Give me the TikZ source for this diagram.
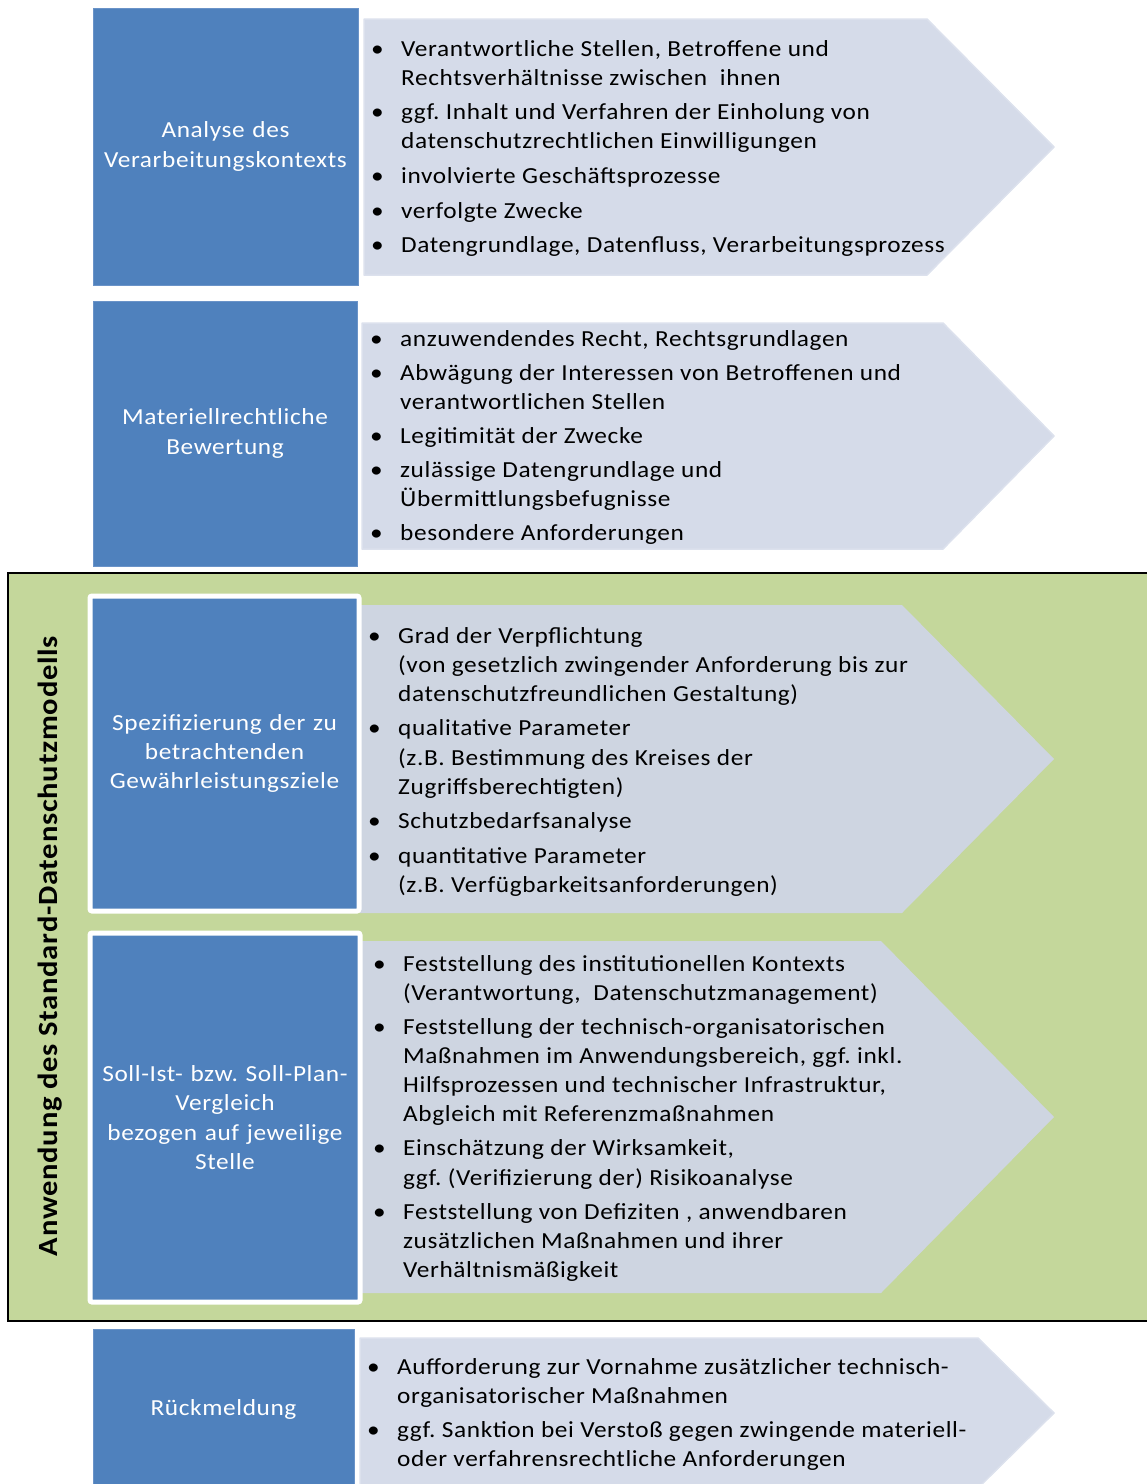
\documentclass[tikz,border=0pt]{standalone}
\usepackage{fontspec}
\setmainfont{Carlito}[FakeStretch=1.10, LetterSpace=2.7]
\definecolor{boxblue}{HTML}{4F81BD}
\definecolor{boxedge}{HTML}{6A93C8}
\definecolor{chevfill}{HTML}{D5DBE9}
\definecolor{chevedge}{HTML}{DCE1ED}
\definecolor{chevgreen}{HTML}{CED5E1}
\definecolor{panelgreen}{HTML}{C4D79B}
\newcommand{\itm}{\makebox[30pt][l]{\textbullet}}
\frenchspacing
\begin{document}
\begin{tikzpicture}[x=1pt,y=-1pt,
  bluebox/.style={fill=boxblue, draw=boxedge, line width=0.8pt, text=white,
    align=center, font=\fontsize{23}{29.2}\selectfont, inner sep=0pt},
  framedbox/.style={fill=boxblue, draw=white, line width=5pt, rounded corners=2pt,
    text=white, align=center, font=\fontsize{23}{29.2}\selectfont, inner sep=0pt},
  chevron/.style={fill=chevfill, draw=chevedge, line width=1.5pt, line join=round},
  chevrong/.style={fill=chevgreen, draw=none},
  listtext/.style={anchor=base west, inner sep=0pt, text=black,
    font=\fontsize{23}{29.15}\selectfont},
  vlabel/.style={rotate=90, text=black, font=\bfseries\fontsize{27.8}{32}\selectfont}
]
\useasboundingbox (0,0) rectangle (1147,1484);
\clip (0,0) rectangle (1147,1484);

% ---------- green panel ----------
\draw[fill=panelgreen, line width=2.5pt] (8,573) rectangle (1170,1321);
\node[vlabel] (vt) at (50,946) {Anwendung des Standard-Datenschutzmodells};

% ---------- chevrons ----------
\draw[chevron] (364,19) -- (927,19) -- (1054,147) -- (927,275) -- (364,275) -- cycle;
\draw[chevron] (362,323) -- (943,323) -- (1054,436) -- (943,549) -- (362,549) -- cycle;
\fill[chevrong] (360,605) -- (902,605) -- (1054,759) -- (902,913) -- (360,913) -- cycle;
\fill[chevrong] (362,941) -- (881,941) -- (1054,1117) -- (881,1293) -- (362,1293) -- cycle;
\draw[chevron] (360,1338) -- (978,1338) -- (1054,1413) -- (978,1488) -- (360,1488) -- cycle;

% ---------- blue boxes ----------
\node[bluebox, minimum width=265pt, minimum height=277pt, text width=262pt]
  (b1) at (225.5,146.5) {Analyse des\\Verarbeitungskontexts};
\node[bluebox, minimum width=264pt, minimum height=265pt, text width=262pt]
  (b2) at (225,433.5) {Materiellrechtliche\\Bewertung};
\node[framedbox, minimum width=269pt, minimum height=315pt, text width=262pt]
  (b3) at (224.5,753.5) {Spezifizierung der zu\\betrachtenden\\Gewährleistungsziele};
\node[framedbox, minimum width=270pt, minimum height=369pt, text width=262pt]
  (b4) at (225,1117.5) {Soll-Ist- bzw. Soll-Plan-\\Vergleich\\bezogen auf jeweilige\\Stelle};
\node[bluebox, minimum width=261pt, minimum height=160pt, text width=258pt]
  (b5) at (223.5,1409) {Rückmeldung};

% ---------- lists ----------
\node[listtext] (l1) at (371,56) {\begin{tabular}[t]{@{}l@{}l@{}}
\itm & Verantwortliche Stellen, Betroffene und\\
     & Rechtsverhältnisse zwischen~ ihnen\\[5.5pt]
\itm & ggf. Inhalt und Verfahren der Einholung von\\
     & datenschutzrechtlichen Einwilligungen\\[5.5pt]
\itm & involvierte Geschäftsprozesse\\[5.5pt]
\itm & verfolgte Zwecke\\[5.5pt]
\itm & Datengrundlage, Datenfluss, Verarbeitungsprozess
\end{tabular}};

\node[listtext] (l2) at (370,346) {\begin{tabular}[t]{@{}l@{}l@{}}
\itm & anzuwendendes Recht, Rechtsgrundlagen\\[5pt]
\itm & Abwägung der Interessen von Betroffenen und\\
     & verantwortlichen Stellen\\[5pt]
\itm & Legitimität der Zwecke\\[5pt]
\itm & zulässige Datengrundlage und\\
     & Übermittlungsbefugnisse\\[5pt]
\itm & besondere Anforderungen
\end{tabular}};

\node[listtext] (l3) at (368,643) {\begin{tabular}[t]{@{}l@{}l@{}}
\itm & Grad der Verpflichtung\\
     & (von gesetzlich zwingender Anforderung bis zur\\
     & datenschutzfreundlichen Gestaltung)\\[5.5pt]
\itm & qualitative Parameter\\
     & (z.B. Bestimmung des Kreises der\\
     & Zugriffsberechtigten)\\[5pt]
\itm & Schutzbedarfsanalyse\\[5.5pt]
\itm & quantitative Parameter\\
     & (z.B. Verfügbarkeitsanforderungen)
\end{tabular}};

\node[listtext] (l4) at (373,971) {\begin{tabular}[t]{@{}l@{}l@{}}
\itm & Feststellung des institutionellen Kontexts\\
     & (Verantwortung,~ Datenschutzmanagement)\\[5pt]
\itm & Feststellung der technisch-organisatorischen\\
     & Maßnahmen im Anwendungsbereich, ggf. inkl.\\
     & Hilfsprozessen und technischer Infrastruktur,\\
     & Abgleich mit Referenzmaßnahmen\\[5pt]
\itm & Einschätzung der Wirksamkeit,\\
     & ggf. (Verifizierung der) Risikoanalyse\\[5pt]
\itm & Feststellung von Defiziten , anwendbaren\\
     & zusätzlichen Maßnahmen und ihrer\\
     & Verhältnismäßigkeit
\end{tabular}};

\node[listtext] (l5) at (367,1374) {\begin{tabular}[t]{@{}l@{}l@{}}
\itm & Aufforderung zur Vornahme zusätzlicher technisch-\\
     & organisatorischer Maßnahmen\\[5pt]
\itm & ggf. Sanktion bei Verstoß gegen zwingende materiell-\\
     & oder verfahrensrechtliche Anforderungen
\end{tabular}};
\end{tikzpicture}
\end{document}
